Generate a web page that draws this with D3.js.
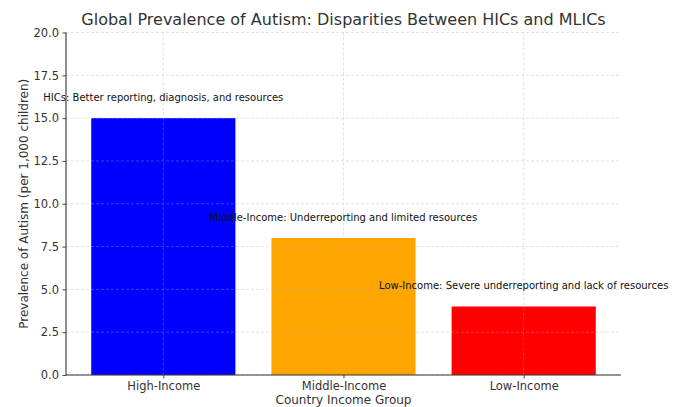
<!DOCTYPE html>
<html>
<head>
<meta charset="utf-8">
<script src="https://cdn.jsdelivr.net/npm/d3@7"></script>
<style>
  html, body { margin: 0; padding: 0; background: #fff; }
  svg { display: block; font-family: "DejaVu Sans", sans-serif; }
</style>
</head>
<body>
<svg id="chart" width="676" height="407"></svg>
<script>
// Income groups and reported prevalence (per 1,000 children)
const categories = ["High-Income", "Middle-Income", "Low-Income"];
const prevalence = [15, 8, 4];
const barColors = ["#0000ff", "#ffa500", "#ff0000"];
const notes = [
  "HICs: Better reporting, diagnosis, and resources",
  "Middle-Income: Underreporting and limited resources",
  "Low-Income: Severe underreporting and lack of resources"
];
const yTicks = [0, 2.5, 5, 7.5, 10, 12.5, 15, 17.5, 20];

const svg = d3.select("#chart");
const plotLeft = 66, plotRight = 621, plotTop = 32.5, plotBottom = 375;

// Categories sit at integer positions; bars are 0.8 wide with 5% padding
const x = d3.scaleLinear().domain([-0.54, 2.54]).range([plotLeft, plotRight]);
const y = d3.scaleLinear().domain([0, 20]).range([plotBottom, plotTop]);
const barW = 0.8;

// Bars
svg.append("g").selectAll("rect")
  .data(prevalence)
  .join("rect")
  .attr("x", (d, i) => x(i - barW / 2))
  .attr("width", (d, i) => x(i + barW / 2) - x(i - barW / 2))
  .attr("y", d => y(d))
  .attr("height", d => y(0) - y(d))
  .attr("fill", (d, i) => barColors[i]);

// Dashed grid drawn over the bars
const grid = svg.append("g")
  .attr("stroke", "#b0b0b0")
  .attr("stroke-width", 0.8)
  .attr("stroke-dasharray", "3,2")
  .attr("opacity", 0.45);
grid.selectAll("line.h")
  .data(yTicks)
  .join("line")
  .attr("class", "h")
  .attr("x1", plotLeft).attr("x2", plotRight)
  .attr("y1", d => y(d)).attr("y2", d => y(d));
grid.selectAll("line.v")
  .data(categories)
  .join("line")
  .attr("class", "v")
  .attr("x1", (d, i) => x(i)).attr("x2", (d, i) => x(i))
  .attr("y1", plotTop).attr("y2", plotBottom);

// Y axis
const yAxis = svg.append("g")
  .attr("transform", `translate(${plotLeft},0)`)
  .call(d3.axisLeft(y).tickValues(yTicks).tickFormat(d3.format(".1f")).tickSize(3.5).tickPadding(3.5));
// X axis
const xAxis = svg.append("g")
  .attr("transform", `translate(0,${plotBottom})`)
  .call(d3.axisBottom(x).tickValues(d3.range(categories.length))
    .tickFormat(i => categories[i]).tickSize(3.5).tickPadding(3.5));

[yAxis, xAxis].forEach(a => {
  a.select(".domain").attr("stroke", "#333").attr("stroke-width", 1.1);
  a.selectAll(".tick line").attr("stroke", "#333").attr("stroke-width", 0.9);
  a.selectAll(".tick text")
    .attr("fill", "#333")
    .style("font-size", "11.5px")
    .style("font-family", "'DejaVu Sans', sans-serif");
});
// Keep only the left and bottom spines at the plot extents
xAxis.select(".domain").attr("d", `M${plotLeft},0H${plotRight}`);
yAxis.select(".domain").attr("d", `M0,${plotBottom}V${plotTop}`);

// Annotations above each bar
svg.append("g").selectAll("text")
  .data(prevalence)
  .join("text")
  .attr("x", (d, i) => x(i))
  .attr("y", d => y(d + 1))
  .attr("text-anchor", "middle")
  .attr("fill", "#111")
  .style("font-size", "10px")
  .text((d, i) => notes[i]);

// Title and axis labels
svg.append("text")
  .attr("x", (plotLeft + plotRight) / 2).attr("y", 25)
  .attr("text-anchor", "middle")
  .attr("fill", "#333")
  .style("font-size", "16px")
  .text("Global Prevalence of Autism: Disparities Between HICs and MLICs");

svg.append("text")
  .attr("x", (plotLeft + plotRight) / 2).attr("y", 404)
  .attr("text-anchor", "middle")
  .attr("fill", "#333")
  .style("font-size", "12px")
  .text("Country Income Group");

svg.append("text")
  .attr("transform", `translate(28,${(plotTop + plotBottom) / 2}) rotate(-90)`)
  .attr("text-anchor", "middle")
  .attr("fill", "#333")
  .style("font-size", "12px")
  .text("Prevalence of Autism (per 1,000 children)");
</script>
</body>
</html>
